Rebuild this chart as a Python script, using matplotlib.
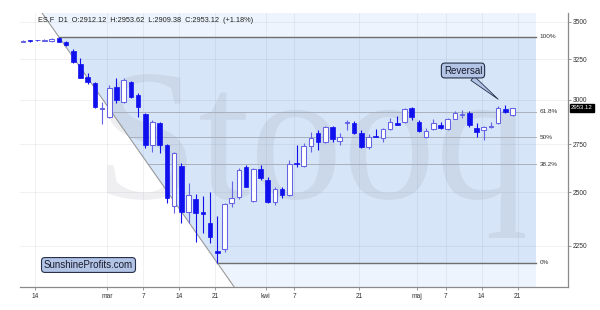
import numpy as np
import pandas as pd
import matplotlib
matplotlib.use("Agg")
import matplotlib.pyplot as plt
from matplotlib.patches import Polygon, PathPatch
from matplotlib.textpath import TextPath
from matplotlib.font_manager import FontProperties
from matplotlib.transforms import Affine2D, blended_transform_factory
from matplotlib.ticker import NullLocator, NullFormatter, FixedLocator, FixedFormatter

# ---------------- data ----------------
dates = pd.bdate_range("2020-02-12", "2020-05-20")
dates = dates[~dates.isin(pd.to_datetime(["2020-02-17", "2020-04-10"]))]

opens = [3366, 3375, 3376, 3373, 3368, 3391, 3366, 3304, 3221, 3137,
         3100, 2946, 2903, 3080, 2986, 3110, 3030, 2918, 2745, 2865,
         2745, 2434, 2634, 2407, 2467, 2407, 2353, 2227, 2235, 2447,
         2477, 2630, 2460, 2617, 2562, 2455, 2516, 2488, 2652, 2634,
         2740, 2813, 2763, 2843, 2769, 2866, 2869, 2813, 2736, 2793,
         2785, 2833, 2865, 2871, 2954, 2871, 2791, 2833, 2856, 2833,
         2890, 2914, 2922, 2837, 2828, 2844, 2865, 2947, 2912.12]
highs = [3376, 3378, 3379, 3380, 3390, 3397, 3370, 3317, 3259, 3162,
         3110, 2990, 3090, 3131, 3132, 3115, 3043, 2925, 2884, 2870,
         2750, 2710, 2651, 2546, 2491, 2483, 2504, 2387, 2447, 2559,
         2622, 2639, 2622, 2639, 2579, 2529, 2529, 2666, 2745, 2755,
         2818, 2828, 2848, 2848, 2809, 2884, 2881, 2828, 2806, 2832,
         2836, 2894, 2909, 2954, 2958, 2884, 2837, 2890, 2874, 2897,
         2936, 2941, 2936, 2865, 2850, 2874, 2966, 2972, 2953.62]
lows = [3362, 3363, 3370, 3370, 3365, 3360, 3338, 3229, 3130, 3096,
        2953, 2862, 2897, 2981, 2980, 3010, 2903, 2727, 2709, 2702,
        2449, 2400, 2356, 2356, 2269, 2307, 2262, 2176, 2225, 2431,
        2470, 2525, 2455, 2562, 2447, 2439, 2472, 2483, 2630, 2627,
        2709, 2719, 2755, 2763, 2745, 2828, 2806, 2727, 2722, 2787,
        2763, 2830, 2853, 2868, 2884, 2818, 2782, 2830, 2834, 2830,
        2887, 2894, 2846, 2791, 2773, 2837, 2860, 2925, 2909.38]
closes = [3373, 3372, 3374, 3376, 3384, 3366, 3343, 3231, 3135, 3110,
          2961, 2951, 3070, 3000, 3121, 3020, 2961, 2745, 2874, 2745,
          2472, 2701, 2407, 2488, 2403, 2395, 2292, 2220, 2443, 2472,
          2613, 2529, 2617, 2571, 2455, 2516, 2488, 2645, 2645, 2740,
          2782, 2763, 2843, 2776, 2787, 2870, 2809, 2733, 2791, 2789,
          2832, 2874, 2856, 2945, 2903, 2824, 2824, 2865, 2837, 2890,
          2926, 2918, 2856, 2815, 2846, 2848, 2954, 2928, 2953.12]

tick_dates = ["2020-02-14", "2020-03-01", "2020-03-07", "2020-03-14", "2020-03-21",
              "2020-04-01", "2020-04-07", "2020-04-21", "2020-05-01", "2020-05-07",
              "2020-05-14", "2020-05-21"]
tick_labels = ["14", "mar", "7", "14", "21", "kwi", "7", "21", "maj", "7", "14", "21"]
yticks = [2250, 2500, 2750, 3000, 3250, 3500]
fib_levels = [1.0, 0.618, 0.5, 0.382, 0.0]
fib_labels = ["100%", "61.8%", "50%", "38.2%", "0%"]
title = "ES.F  D1  O:2912.12  H:2953.62  L:2909.38  C:2953.12  (+1.18%)"
last_price = "2953.12"
reversal_idx = 66

# ---------------- figure ----------------
plt.rcParams["font.family"] = ["Liberation Sans", "DejaVu Sans"]
W, H = 600, 310
fig = plt.figure(figsize=(W / 100, H / 100), dpi=100)
fig.patch.set_facecolor("white")
ax = fig.add_axes([20 / W, 23 / H, 548 / W, 274 / H])
ax.set_facecolor("white")
ax.set_yscale("log")
ymin, ymax = 2075, 3561
xmin, xmax = -0.4, 75.7
ax.set_xlim(xmin, xmax)
ax.set_ylim(ymin, ymax)

o = np.array(opens, float); h = np.array(highs, float)
l = np.array(lows, float); c = np.array(closes, float)

# fib / trend line through extreme high and low (straight on log axis)
ih, il = int(np.argmax(h)), int(np.argmin(l))
hi, lo = h[ih], l[il]
slope = (np.log(lo) - np.log(hi)) / (il - ih)
def x_at(p):
    return ih + (np.log(p) - np.log(hi)) / slope
xr = len(closes) - 1 + 3.3
x_top, x_bot = x_at(ymax), x_at(ymin)

dark = "#d6e5f8"
light = "#edf4fd"
ax.add_patch(Polygon([(ih, hi), (xr, hi), (xr, lo), (il, lo)], closed=True,
                     fc=dark, ec="none", zorder=1))
ax.add_patch(Polygon([(x_top, ymax), (xr, ymax), (xr, hi), (ih, hi)], closed=True,
                     fc=light, ec="none", zorder=1))
ax.add_patch(Polygon([(il, lo), (xr, lo), (xr, ymin), (x_bot, ymin)], closed=True,
                     fc=light, ec="none", zorder=1))
ax.plot([x_top, x_bot], [ymax, ymin], color="#9a9a9a", lw=0.8, zorder=2.2)

# grid
tpos = [np.searchsorted(dates, pd.Timestamp(d)) - 0.3 for d in tick_dates]
for t in tpos:
    ax.axvline(t, color=(0.45, 0.5, 0.6, 0.13), lw=0.6, zorder=1.5)
for yt in yticks:
    ax.axhline(yt, color=(0.45, 0.5, 0.6, 0.13), lw=0.6, zorder=1.5)

# watermark
fp = FontProperties(family="Liberation Serif")
tp = TextPath((0, 0), "Stooq", size=100, prop=fp)
v = tp.vertices
x0, x1 = v[:, 0].min(), v[:, 0].max()
y0, y1 = v[:, 1].min(), v[:, 1].max()
bx0, bx1 = 95 / W, 525 / W
by0, by1 = (H - 238) / H, (H - 74) / H
tr = Affine2D().translate(-x0, -y0).scale((bx1 - bx0) / (x1 - x0), (by1 - by0) / (y1 - y0)).translate(bx0, by0)
wm = PathPatch(tr.transform_path(tp), fc=(0.45, 0.45, 0.5), ec="none", alpha=0.11,
               transform=fig.transFigure, zorder=1.8)
ax.add_patch(wm)

# fib lines
for lev, lab in zip(fib_levels, fib_labels):
    p = lo + lev * (hi - lo)
    xs = x_at(p)
    strong = lev in (0.0, 1.0)
    ax.plot([xs, xr], [p, p], color="#6e6e6e" if strong else "#a9b0bd",
            lw=1.0 if strong else 0.7, zorder=2.1)
    ax.text(xr + 0.45, p, lab, fontsize=4.6, color="#333333", va="center", ha="left", zorder=5)

# candles
bull_edge = "#6464e4"
bear_col = "#1010ee"
for i in range(len(c)):
    up = c[i] >= o[i]
    wcol = bull_edge if up else bear_col
    ax.plot([i, i], [l[i], h[i]], color=wcol, lw=0.8, zorder=3, solid_capstyle="butt")
    bot, top = min(o[i], c[i]), max(o[i], c[i])
    if up:
        ax.bar(i, top - bot, bottom=bot, width=0.64, color="white", edgecolor=bull_edge,
               linewidth=0.75, zorder=4)
    else:
        ax.bar(i, top - bot, bottom=bot, width=0.64, color=bear_col, edgecolor=bear_col,
               linewidth=0.5, zorder=4)

# axes styling
for s in ["top", "left"]:
    ax.spines[s].set_visible(False)
for s in ["bottom", "right"]:
    ax.spines[s].set_color("#8a8a8a")
    ax.spines[s].set_linewidth(0.9)
ax.yaxis.tick_right()
ax.yaxis.set_major_locator(FixedLocator(yticks))
ax.yaxis.set_major_formatter(FixedFormatter([str(v) for v in yticks]))
ax.yaxis.set_minor_locator(NullLocator())
ax.yaxis.set_minor_formatter(NullFormatter())
ax.tick_params(axis="y", which="major", direction="out", length=2, width=0.6,
               colors="#8a8a8a", labelcolor="#333333", labelsize=4.8, pad=1.5)
ax.set_xticks(tpos)
ax.set_xticklabels(tick_labels)
ax.tick_params(axis="x", direction="out", length=2.5, width=0.6, colors="#8a8a8a",
               labelcolor="#333333", labelsize=4.8, pad=2)

# last price tag
btr = blended_transform_factory(ax.transAxes, ax.transData)
ax.text(1.0 + 3 / 548, c[-1], last_price, transform=btr, fontsize=4.3, color="white",
        va="center", ha="left", zorder=6, clip_on=False,
        bbox=dict(boxstyle="square,pad=0.2", fc="black", ec="black"))

# title
fig.text(38 / W, 1 - 20 / H, title, fontsize=5.3, color="#222222", va="center", ha="left")

# annotations
box = dict(boxstyle="round,pad=0.25,rounding_size=0.35", fc="#b3c5e6", ec="#27304a", lw=0.8)
ax.annotate("Reversal", xy=(reversal_idx, h[reversal_idx] * 1.013),
            xytext=((463 - 20) / 548, (287 - 70.5) / 274), textcoords="axes fraction",
            fontsize=7, color="#1a1a2a", ha="center", va="center", bbox=box, zorder=7,
            arrowprops=dict(arrowstyle="wedge,tail_width=0.55,shrink_factor=0.5",
                            fc="#b3c5e6", ec="#27304a", lw=0.6, shrinkA=0, shrinkB=0))
ax.text((88.5 - 20) / 548, (287 - 265) / 274, "SunshineProfits.com", transform=ax.transAxes,
        fontsize=7, color="#1a1a2a", ha="center", va="center", bbox=box, zorder=7)

fig.savefig("out.png", dpi=100, facecolor="white")
